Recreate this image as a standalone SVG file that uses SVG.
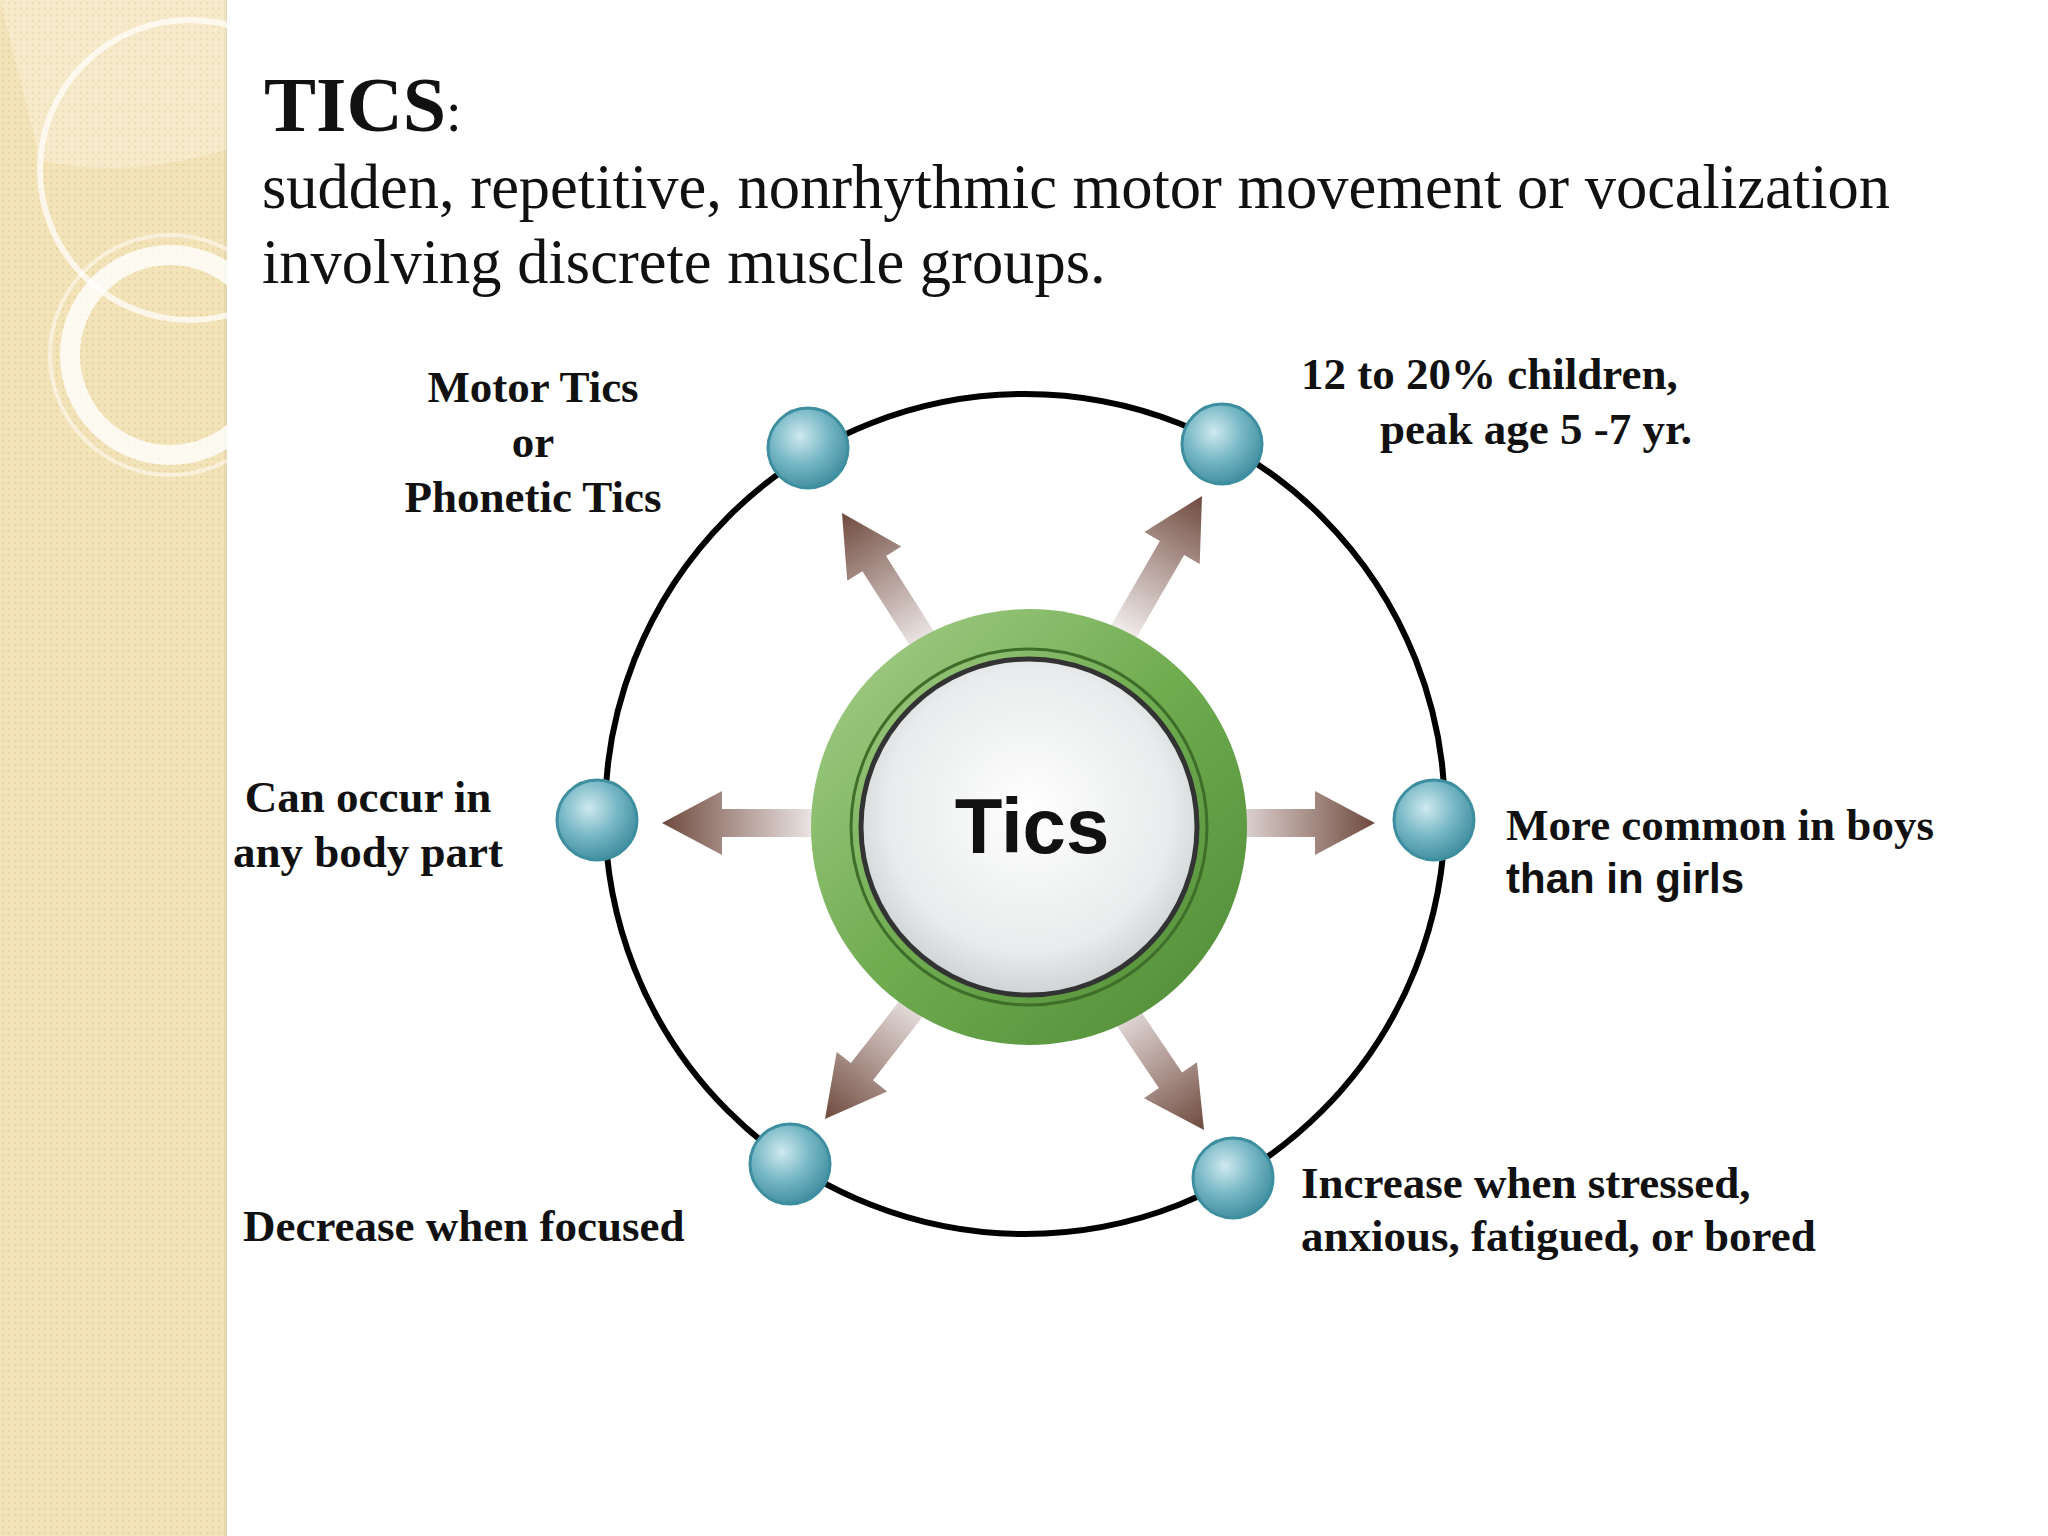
<svg xmlns="http://www.w3.org/2000/svg" width="2048" height="1536" viewBox="0 0 2048 1536">
<defs>
<style>
.lbl{font-family:"Liberation Serif",serif;font-weight:bold;font-size:45px;fill:#111}
.sans{font-family:"Liberation Sans",Arial,sans-serif;font-weight:bold;font-size:42px;fill:#111}
.ball{fill:url(#ballg);stroke:#3d8fa0;stroke-width:3}
.arr{fill:url(#arrg)}
</style>
<radialGradient id="ballg" cx="0.4" cy="0.35" r="0.7">
<stop offset="0" stop-color="#cfe9ee"/><stop offset="0.5" stop-color="#78b8c6"/><stop offset="1" stop-color="#3b8a9c"/>
</radialGradient>
<linearGradient id="arrg" x1="0" y1="0" x2="1" y2="0">
<stop offset="0" stop-color="#f2eeee"/><stop offset="0.5" stop-color="#b39d97"/><stop offset="1" stop-color="#6e4a3e"/>
</linearGradient>
<linearGradient id="ringg" x1="0" y1="0" x2="1" y2="1">
<stop offset="0" stop-color="#a9d18e"/><stop offset="0.5" stop-color="#6fab4f"/><stop offset="1" stop-color="#4e8a35"/>
</linearGradient>
<radialGradient id="innerg" cx="0.5" cy="0.45" r="0.6">
<stop offset="0" stop-color="#ffffff"/><stop offset="0.7" stop-color="#e9ebec"/><stop offset="1" stop-color="#c5c9cb"/>
</radialGradient>
<pattern id="dots" width="6" height="6" patternUnits="userSpaceOnUse">
<rect width="6" height="6" fill="#f3e3b9"/><circle cx="3" cy="3" r="1.2" fill="#e8d5a4"/>
</pattern>
<path id="arrow" d="M0,-14 L-100,-14 L-100,14 L0,14 L0,32 L60,0 L0,-32 Z"/>
</defs>
<rect width="2048" height="1536" fill="#ffffff"/>
<g id="sidebar">
<rect x="0" y="0" width="226" height="1536" fill="url(#dots)"/>
<rect x="224" y="0" width="3" height="1536" fill="#e6d7ae"/>
<circle cx="190" cy="170" r="150" fill="none" stroke="#ffffff" stroke-opacity="0.7" stroke-width="6"/>
<circle cx="170" cy="355" r="100" fill="none" stroke="#ffffff" stroke-opacity="0.8" stroke-width="20"/>
<circle cx="170" cy="355" r="120" fill="none" stroke="#ffffff" stroke-opacity="0.5" stroke-width="4"/>
<path d="M0,0 L226,0 L226,150 Q120,180 40,160 Z" fill="#ffffff" fill-opacity="0.25"/>
</g>
<g id="title">
<text x="264" y="131" font-family="Liberation Serif,serif" font-weight="bold" font-size="78" fill="#111">TICS<tspan font-weight="normal" font-size="56">:</tspan></text>
<text x="262" y="208" font-family="Liberation Serif,serif" font-size="62.5" fill="#111">sudden, repetitive, nonrhythmic motor movement or vocalization</text>
<text x="262" y="283" font-family="Liberation Serif,serif" font-size="62.5" fill="#111">involving discrete muscle groups.</text>
</g>
<g id="orbit"><circle cx="1025" cy="814" r="420" fill="none" stroke="#000" stroke-width="6"/></g>
<g id="connectors">
<use href="#arrow" class="arr" transform="translate(662,823) rotate(180) translate(-60,0)"/>
<use href="#arrow" class="arr" transform="translate(1315,823)"/>
<use href="#arrow" class="arr" transform="translate(842,513) rotate(-122.5) translate(-60,0)"/>
<use href="#arrow" class="arr" transform="translate(1202,496) rotate(-60) translate(-60,0)"/>
<use href="#arrow" class="arr" transform="translate(825,1119) rotate(128) translate(-60,0)"/>
<use href="#arrow" class="arr" transform="translate(1204,1130) rotate(56) translate(-60,0)"/>
</g>
<g id="center">
<circle cx="1029" cy="827" r="218" fill="url(#ringg)"/>
<circle cx="1029" cy="827" r="178" fill="none" stroke="#3f6e2b" stroke-width="3"/>
<circle cx="1029" cy="827" r="168" fill="url(#innerg)" stroke="#333" stroke-width="5"/>
<text x="1032" y="853" text-anchor="middle" font-family="Liberation Sans,Arial,sans-serif" font-weight="bold" font-size="78" fill="#111">Tics</text>
</g>
<g id="n1"><circle class="ball" cx="808" cy="448" r="40"/>
<text class="lbl" text-anchor="middle"><tspan x="533" y="402">Motor Tics</tspan><tspan x="533" y="457">or</tspan><tspan x="533" y="512">Phonetic Tics</tspan></text></g>
<g id="n2"><circle class="ball" cx="1222" cy="444" r="40"/>
<text class="lbl"><tspan x="1301" y="389">12 to 20% children,</tspan><tspan x="1380" y="444">peak age 5 -7 yr.</tspan></text></g>
<g id="n3"><circle class="ball" cx="597" cy="820" r="40"/>
<text class="lbl" text-anchor="middle"><tspan x="368" y="812">Can occur in</tspan><tspan x="368" y="867">any body part</tspan></text></g>
<g id="n4"><circle class="ball" cx="1434" cy="820" r="40"/>
<text class="lbl" x="1506" y="840">More common in boys</text>
<text class="sans" x="1506" y="893">than in girls</text></g>
<g id="n5"><circle class="ball" cx="790" cy="1164" r="40"/>
<text class="lbl" x="243" y="1241">Decrease when focused</text></g>
<g id="n6"><circle class="ball" cx="1233" cy="1178" r="40"/>
<text class="lbl"><tspan x="1301" y="1198">Increase when stressed,</tspan><tspan x="1301" y="1251">anxious, fatigued, or bored</tspan></text></g>
</svg>
